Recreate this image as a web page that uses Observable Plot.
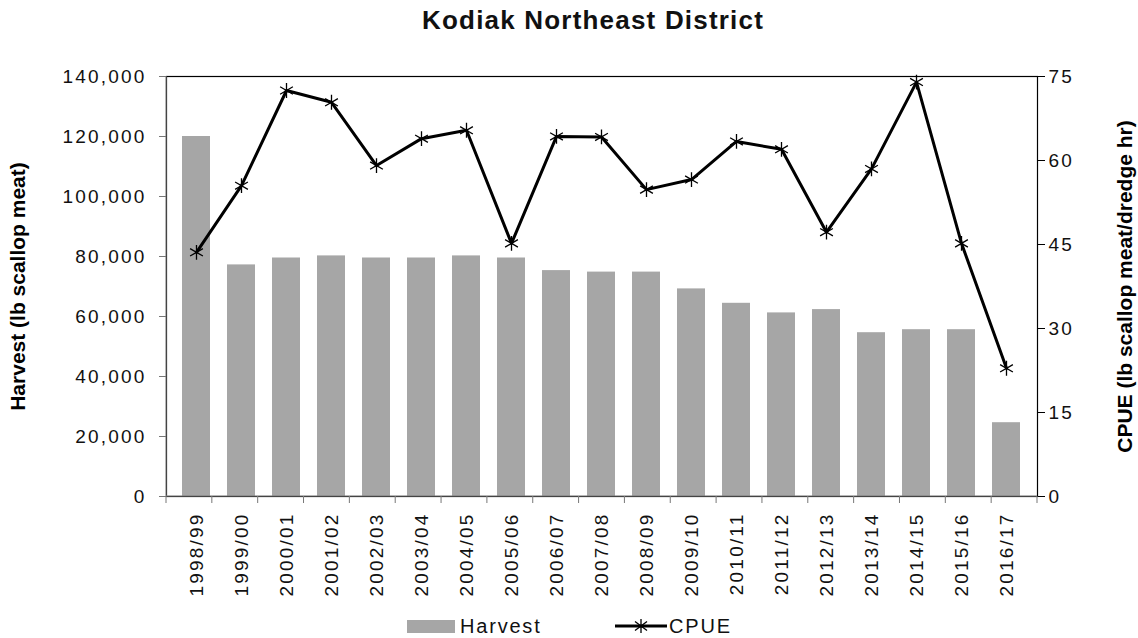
<!DOCTYPE html>
<html>
<head>
<meta charset="utf-8">
<script src="https://cdn.jsdelivr.net/npm/d3@7"></script>
<script src="https://cdn.jsdelivr.net/npm/@observablehq/plot@0.6"></script>
<style>
  body { margin: 0; background: #fff; }
  #wrap { position: relative; width: 1138px; height: 638px; font-family: "Liberation Sans", Arial, sans-serif; }
  #title { position: absolute; left: 422px; top: 5px; white-space: nowrap; font-weight: bold; font-size: 26px; letter-spacing: 1.2px; color: #111; }
  #chart { position: absolute; left: 0; top: 50px; }
  #legend { position: absolute; top: 614px; left: 0; width: 1138px; height: 24px; font-size: 20px; color: #111; }
  .lg { position: absolute; display: flex; align-items: center; letter-spacing: 1.8px; }
  g[aria-label="y-axis tick label"] text, g[aria-label="x-axis tick label"] text { letter-spacing: 2.2px; }
</style>
</head>
<body>
<div id="wrap">
  <div id="title">Kodiak Northeast District</div>
  <div id="chart"></div>
  <div id="legend">
    <div class="lg" style="left:407px; top:0px;"><svg width="48" height="24"><rect x="0" y="6" width="48" height="13" fill="#a6a6a6"/></svg><span style="margin-left:5px">Harvest</span></div>
    <div class="lg" style="left:615px; top:0px;"><svg width="52" height="24"><line x1="0" y1="12" x2="52" y2="12" stroke="#000" stroke-width="3"/><path transform="translate(26,12)" d="M0,-7V7M-6,-4.5L6,4.5M-6,4.5L6,-4.5" stroke="#000" stroke-width="1.3" fill="none"/></svg><span style="margin-left:2px">CPUE</span></div>
  </div>
</div>
<script>
const seasons = ["1998/99","1999/00","2000/01","2001/02","2002/03","2003/04","2004/05","2005/06","2006/07","2007/08","2008/09","2009/10","2010/11","2011/12","2012/13","2013/14","2014/15","2015/16","2016/17"];
const harvest = [120000, 77200, 79500, 80200, 79500, 79500, 80200, 79500, 75300, 74800, 74800, 69200, 64400, 61200, 62300, 54600, 55600, 55600, 24600];
const cpue = [43.6, 55.5, 72.5, 70.4, 59.1, 63.9, 65.4, 45.2, 64.3, 64.2, 54.8, 56.6, 63.4, 62.0, 47.2, 58.5, 74.0, 45.2, 22.9];
const harvestTicks = [0, 20000, 40000, 60000, 80000, 100000, 120000, 140000];
const cpueTicks = [0, 15, 30, 45, 60, 75];
const harvestMax = 140000, cpueMax = 75;
const k = harvestMax / cpueMax;

const data = seasons.map((s, i) => ({season: s, harvest: harvest[i], cpue: cpue[i], cpueScaled: cpue[i] * k}));

// custom mark: left (gray) axis line and category boundary ticks on bottom
function boundaryTicks(index, scales, values, dim) {
  const g = d3.create("svg:g");
  const left = dim.marginLeft, right = dim.width - dim.marginRight, bottom = dim.height - dim.marginBottom, top = dim.marginTop;
  const step = (right - left) / seasons.length;
  for (let i = 0; i <= seasons.length; i++) {
    g.append("line").attr("x1", left + i * step).attr("x2", left + i * step)
      .attr("y1", bottom).attr("y2", bottom + 7).attr("stroke", "#777");
  }
  g.append("line").attr("x1", left).attr("x2", right).attr("y1", bottom).attr("y2", bottom).attr("stroke", "#888");
  g.append("line").attr("x1", left).attr("x2", left).attr("y1", top).attr("y2", bottom).attr("stroke", "#888");
  return g.node();
}

const chart = Plot.plot({
  width: 1138,
  height: 560,
  marginLeft: 166,
  marginRight: 101,
  marginTop: 26,
  marginBottom: 114,
  style: {fontFamily: "'Liberation Sans', Arial, sans-serif", fontSize: "19px", color: "#111", background: "white"},
  x: {domain: seasons, paddingInner: 0.37, paddingOuter: 0.185, label: null},
  y: {domain: [0, harvestMax], label: null},
  marks: [
    Plot.barY(data, {x: "season", y: "harvest", fill: "#a6a6a6"}),
    Plot.ruleY([harvestMax], {stroke: "#000", strokeWidth: 1.2}),
    Plot.frame({stroke: "#000", strokeWidth: 1.2, fill: "none"}),
    boundaryTicks,
    Plot.axisY({ticks: harvestTicks, tickFormat: d3.format(","), tickSize: 7, tickPadding: 13, stroke: "#777"}),
    Plot.axisY({anchor: "right", ticks: cpueTicks.map(v => v * k), tickFormat: d => String(Math.round(d / k)), tickSize: 7, tickPadding: 4, stroke: "#000"}),
    Plot.axisX({tickSize: 0, tickPadding: 16, tickRotate: -90}),
    Plot.line(data, {x: "season", y: "cpueScaled", stroke: "#000", strokeWidth: 3}),
    Plot.dot(data, {x: "season", y: "cpueScaled", symbol: "asterisk", r: 7, stroke: "#000", strokeWidth: 1.3}),
    Plot.text(["Harvest (lb scallop meat)"], {frameAnchor: "left", dx: -148, rotate: -90, fontWeight: "bold", fontSize: 21, fill: "#000", textAnchor: "middle"}),
    Plot.text(["CPUE (lb scallop meat/dredge hr)"], {frameAnchor: "right", dx: 88, rotate: -90, fontWeight: "bold", fontSize: 21, fill: "#000", textAnchor: "middle"})
  ]
});
document.getElementById("chart").appendChild(chart);
</script>
</body>
</html>
